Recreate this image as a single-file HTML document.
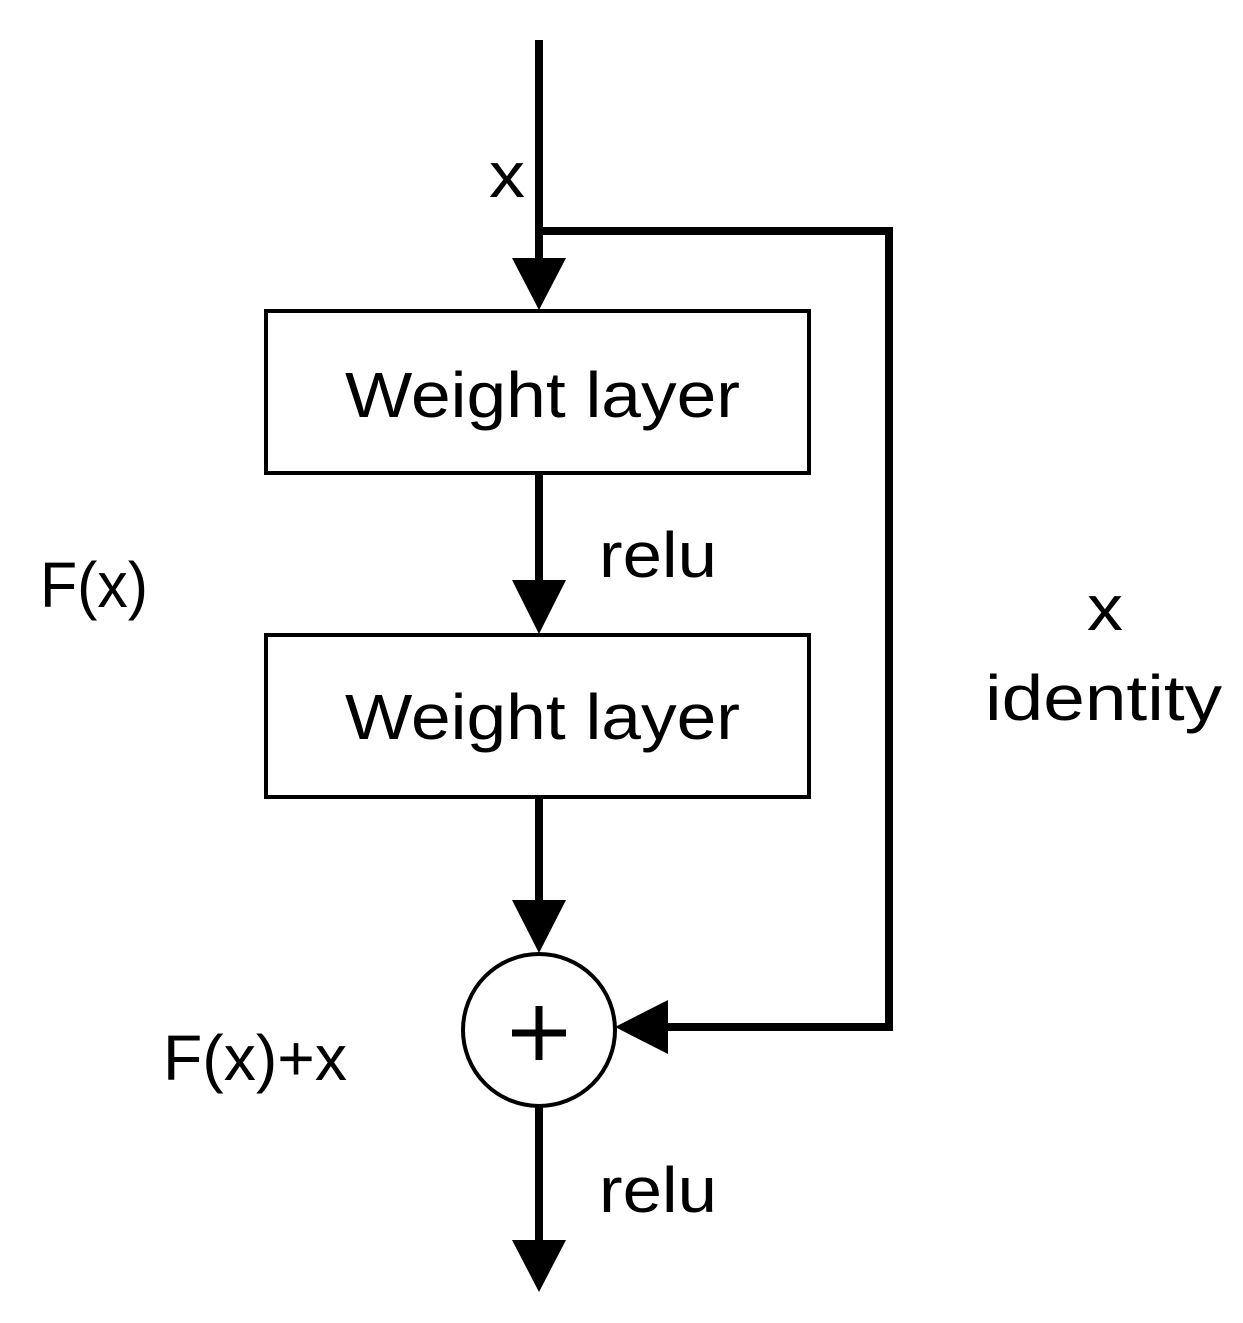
<!DOCTYPE html>
<html><head><style>html,body{margin:0;padding:0;background:#fff}</style></head>
<body>
<svg width="1243" height="1318" viewBox="0 0 1243 1318" xmlns="http://www.w3.org/2000/svg">
<g stroke="#000" stroke-width="8" fill="none">
<line x1="539" y1="40" x2="539" y2="262"/>
<polyline points="539,231 889,231 889,1027 660,1027"/>
<line x1="539" y1="473" x2="539" y2="585"/>
<line x1="539" y1="797" x2="539" y2="905"/>
<line x1="539" y1="1106" x2="539" y2="1245"/>
</g>
<g fill="#000">
<polygon points="512,258 566,258 539,310"/>
<polygon points="512,580 566,580 539,634"/>
<polygon points="512,900 566,900 539,953"/>
<polygon points="512,1240 566,1240 539,1292"/>
<polygon points="668,1000 668,1054 615,1027"/>
</g>
<g stroke="#000" stroke-width="4" fill="#fff">
<rect x="266" y="311" width="543" height="162"/>
<rect x="266" y="635" width="543" height="162"/>
<circle cx="539" cy="1030" r="76"/>
</g>
<g stroke="#000" stroke-width="7">
<line x1="512" y1="1033" x2="566" y2="1033"/>
<line x1="539" y1="1006" x2="539" y2="1060"/>
</g>
<g font-family="'Liberation Sans', sans-serif" font-size="64" fill="#000">
<text x="345" y="417" textLength="395" lengthAdjust="spacingAndGlyphs">Weight layer</text>
<text x="345" y="739" textLength="395" lengthAdjust="spacingAndGlyphs">Weight layer</text>
<text x="489" y="197" textLength="36" lengthAdjust="spacingAndGlyphs">x</text>
<text x="599" y="577" textLength="118" lengthAdjust="spacingAndGlyphs">relu</text>
<text x="40" y="607" textLength="108" lengthAdjust="spacingAndGlyphs">F(x)</text>
<text x="1087" y="630" textLength="36" lengthAdjust="spacingAndGlyphs">x</text>
<text x="985" y="720" textLength="237" lengthAdjust="spacingAndGlyphs">identity</text>
<text x="163" y="1080" textLength="184" lengthAdjust="spacingAndGlyphs">F(x)+x</text>
<text x="599" y="1212" textLength="118" lengthAdjust="spacingAndGlyphs">relu</text>
</g>
</svg>
</body></html>
